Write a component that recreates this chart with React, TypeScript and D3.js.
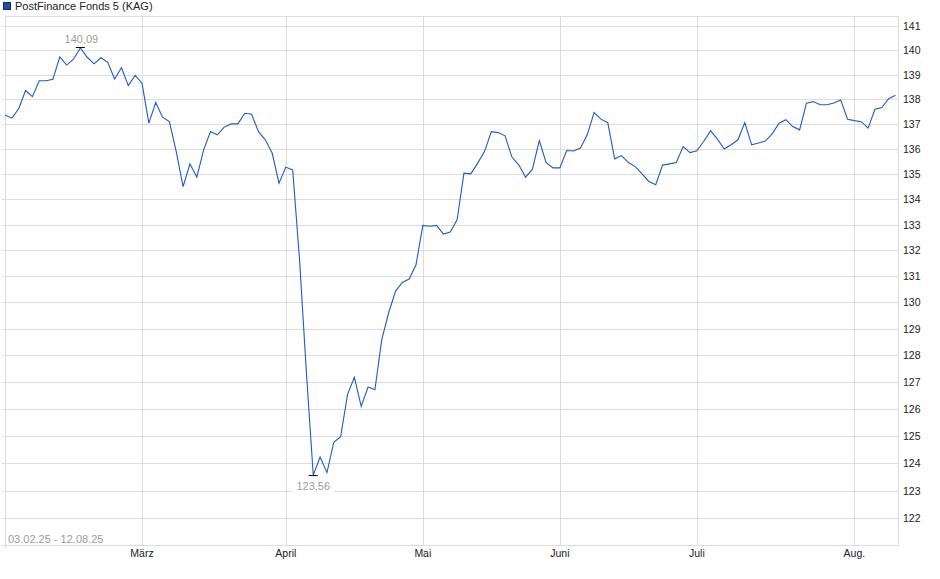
import React from 'react';
import * as d3 from 'd3';

const title = "PostFinance Fonds 5 (KAG)";
const rangeLabel = "03.02.25 - 12.08.25";

// daily closes, one per trading day (03.02.25 .. 12.08.25)
const prices = [
  137.36, 137.23, 137.61, 138.35, 138.10, 138.75, 138.75, 138.81, 139.73, 139.39,
  139.63, 140.09, 139.71, 139.44, 139.69, 139.50, 138.82, 139.28, 138.55, 138.97,
  138.65, 137.03, 137.86, 137.27, 137.09, 135.89, 134.50, 135.40, 134.87, 135.96,
  136.69, 136.56, 136.87, 137.00, 137.00, 137.43, 137.39, 136.69, 136.36, 135.83,
  134.63, 135.27, 135.16, 131.63, 127.34, 123.56, 124.22, 123.65, 124.76, 124.96,
  126.52, 127.16, 126.08, 126.80, 126.70, 128.58, 129.59, 130.42, 130.76, 130.89,
  131.44, 132.97, 132.94, 132.97, 132.63, 132.71, 133.19, 135.03, 135.00, 135.43,
  135.89, 136.69, 136.65, 136.52, 135.67, 135.36, 134.87, 135.19, 136.33, 135.45,
  135.24, 135.24, 135.93, 135.91, 136.03, 136.56, 137.46, 137.19, 137.05, 135.60,
  135.73, 135.45, 135.29, 135.00, 134.70, 134.57, 135.35, 135.40, 135.45, 136.09,
  135.85, 135.92, 136.29, 136.73, 136.39, 135.99, 136.16, 136.36, 137.05, 136.16,
  136.23, 136.31, 136.60, 137.03, 137.17, 136.89, 136.76, 137.84, 137.90, 137.77,
  137.77, 137.84, 137.97, 137.19, 137.13, 137.09, 136.83, 137.59, 137.66, 138.02,
  138.16,
];

const monthLabels = ["März", "April", "Mai", "Juni", "Juli", "Aug."];
// index of the first trading day of each month
const monthStartIndex = [20, 41, 61, 81, 101, 124];

const yTicks = d3.range(122, 142);

const W = 940;
const H = 579;
const left = 5;
const right = 898;
const top = 16;
const bottom = 545;

const lineColor = "#1c5cc4";
const gridColor = "#dcdcdc";
const font = "'Liberation Sans', Arial, sans-serif";

const fmt = (v: number) => v.toFixed(2).replace(".", ",");

export default function App() {
  const x = d3.scaleLinear().domain([0, prices.length - 1]).range([left, left + 6.85 * (prices.length - 1)]);
  const y = d3.scaleLog().domain([122, 141]).range([518.3, 26]);

  const line = d3.line<number>()
    .x((_, i) => x(i))
    .y(d => y(d));

  const maxI = d3.maxIndex(prices);
  const minI = d3.minIndex(prices);

  return (
    <div style={{ position: "absolute", left: 0, top: 0 }}>
      <svg width={W} height={H} style={{ display: "block", fontFamily: font }}>
        <rect width={W} height={H} fill="#fff" />

        {/* legend */}
        <rect x={3.5} y={2.5} width={7} height={7} fill="#1f4fa8" stroke="#0d2b66" />
        <text x={15} y={10} fontSize={11} fill="#222">{title}</text>

        {/* horizontal grid */}
        {yTicks.map(t => (
          <g key={t}>
            <line x1={2} x2={right} y1={Math.round(y(t)) + 0.5} y2={Math.round(y(t)) + 0.5} stroke={gridColor} />
            <text x={903} y={y(t) + 4} fontSize={10.5} fill="#222">{t}</text>
          </g>
        ))}

        {/* vertical grid */}
        {monthStartIndex.map((idx, k) => (
          <g key={k}>
            <line x1={Math.round(x(idx)) + 0.5} x2={Math.round(x(idx)) + 0.5} y1={top} y2={bottom} stroke={gridColor} />
            <text x={x(idx)} y={557} fontSize={10.5} fill="#222" textAnchor="middle">{monthLabels[k]}</text>
          </g>
        ))}

        {/* frame */}
        <line x1={left} x2={right} y1={top + 0.5} y2={top + 0.5} stroke={gridColor} />
        <line x1={2} x2={right + 0.5} y1={bottom + 0.5} y2={bottom + 0.5} stroke={gridColor} />
        <line x1={left + 0.5} x2={left + 0.5} y1={top} y2={548} stroke={gridColor} />
        <line x1={right + 0.5} x2={right + 0.5} y1={top} y2={bottom + 0.5} stroke={gridColor} />

        {/* date range */}
        <rect x={7} y={533} width={96} height={11} fill="#fff" />
        <text x={8} y={543} fontSize={11} fill="#a09c98">{rangeLabel}</text>

        <path d={line(prices) ?? ""} fill="none" stroke={lineColor} strokeWidth={1.1} />

        {/* high / low markers */}
        <line x1={x(maxI) - 4.5} x2={x(maxI) + 4.5} y1={y(prices[maxI]) - 0.5} y2={y(prices[maxI]) - 0.5} stroke="#000" />
        <text x={x(maxI) + 1} y={43} fontSize={11} fill="#a09c98" textAnchor="middle">{fmt(prices[maxI])}</text>

        <line x1={x(minI) - 4.5} x2={x(minI) + 4.5} y1={y(prices[minI]) + 0.5} y2={y(prices[minI]) + 0.5} stroke="#000" />
        <rect x={x(minI) - 21} y={480} width={42} height={13} fill="#fff" />
        <text x={x(minI)} y={490} fontSize={11} fill="#a09c98" textAnchor="middle">{fmt(prices[minI])}</text>
      </svg>
    </div>
  );
}
